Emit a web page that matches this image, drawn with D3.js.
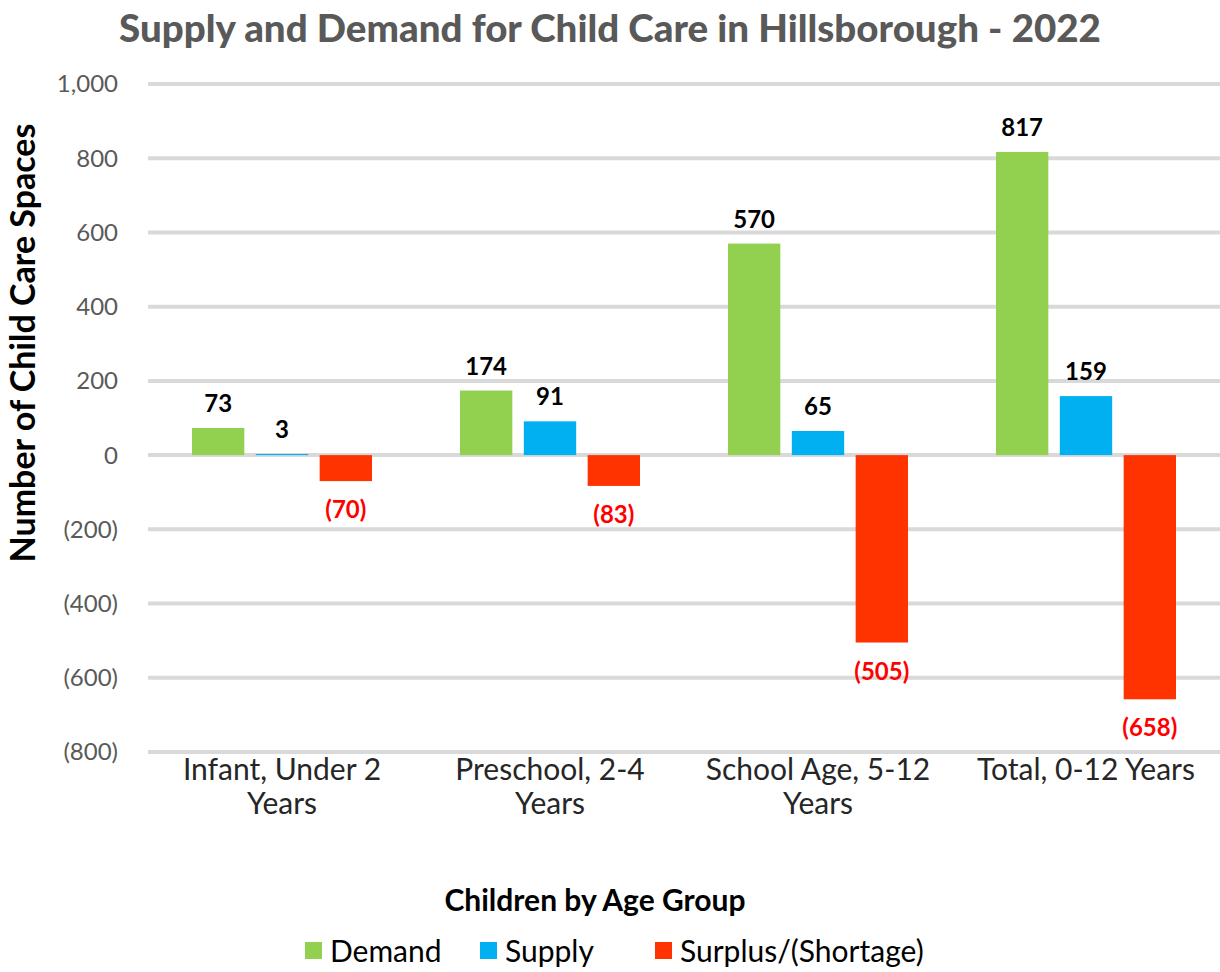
<!DOCTYPE html>
<html>
<head>
<meta charset="utf-8">
<script src="https://cdn.jsdelivr.net/npm/d3@7"></script>
<style>
  html, body { margin: 0; padding: 0; background: #fff; }
  svg { display: block; }
  text { font-family: Lato, "Open Sans", sans-serif; }
</style>
</head>
<body>
<svg id="chart" width="1220" height="972"></svg>
<script>
const categories = [["Infant, Under 2", "Years"], ["Preschool, 2-4", "Years"], ["School Age, 5-12", "Years"], ["Total, 0-12 Years"]];
const seriesNames = ["Demand", "Supply", "Surplus/(Shortage)"];
const demand = [73, 174, 570, 817];
const supply = [3, 91, 65, 159];
const surplus = [-70, -83, -505, -658];
const yTicks = [1000, 800, 600, 400, 200, 0, -200, -400, -600, -800];
const colors = ["#92d050", "#00b0f0", "#ff3300"];
const labelColors = ["#000000", "#000000", "#ff0000"];

const svg = d3.select("#chart");
const x0 = d3.scaleBand().domain(d3.range(categories.length)).range([148, 1220]).paddingInner(0).paddingOuter(0);
const y = d3.scaleLinear().domain([-800, 1000]).range([752, 84]);
const xSeries = d3.scaleBand().domain(d3.range(3)).range([-90, 90]).paddingInner(0.18);

// gridlines
svg.append("g").selectAll("line").data(yTicks).join("line")
  .attr("x1", 148).attr("x2", 1220)
  .attr("y1", d => y(d)).attr("y2", d => y(d))
  .attr("stroke", "#d9d9d9").attr("stroke-width", 4);

// y axis labels
const fmt = d => d < 0 ? "(" + d3.format(",")(-d) + ")" : d3.format(",")(d);
svg.append("g").selectAll("text").data(yTicks).join("text")
  .attr("x", 118).attr("y", d => y(d)).attr("dy", "0.35em")
  .attr("text-anchor", "end").attr("font-size", 24).attr("fill", "#595959")
  .text(fmt);

// bars
const all = [demand, supply, surplus];
const barData = [];
all.forEach((vals, s) => vals.forEach((v, i) => barData.push({ s, i, v })));
svg.append("g").selectAll("rect").data(barData).join("rect")
  .attr("x", d => x0(d.i) + x0.bandwidth() / 2 + xSeries(d.s))
  .attr("width", xSeries.bandwidth())
  .attr("y", d => y(Math.max(0, d.v)))
  .attr("height", d => Math.abs(y(d.v) - y(0)))
  .attr("fill", d => colors[d.s]);

// value labels
svg.append("g").selectAll("text").data(barData).join("text")
  .attr("x", d => x0(d.i) + x0.bandwidth() / 2 + xSeries(d.s) + xSeries.bandwidth() / 2)
  .attr("y", d => d.v >= 0 ? y(d.v) - 16 : y(d.v) + 37)
  .attr("text-anchor", "middle").attr("font-size", 24).attr("font-weight", "bold")
  .attr("fill", d => labelColors[d.s])
  .text(d => fmt(d.v));

// category labels
const cat = svg.append("g").selectAll("text").data(categories).join("text")
  .attr("x", (d, i) => x0(i) + x0.bandwidth() / 2)
  .attr("y", 780)
  .attr("text-anchor", "middle").attr("font-size", 30).attr("fill", "#262626");
cat.selectAll("tspan").data(d => d).join("tspan")
  .attr("x", function() { return d3.select(this.parentNode).attr("x"); })
  .attr("dy", (d, j) => j === 0 ? 0 : 34)
  .text(d => d);

// title
svg.append("text").attr("x", 610).attr("y", 42).attr("text-anchor", "middle")
  .attr("font-size", 38.5).attr("font-weight", "900").attr("fill", "#595959")
  .text("Supply and Demand for Child Care in Hillsborough - 2022");

// y axis title
svg.append("text").attr("transform", "translate(35,343) rotate(-90)")
  .attr("text-anchor", "middle").attr("font-size", 34).attr("font-weight", "bold").attr("fill", "#000")
  .text("Number of Child Care Spaces");

// x axis title
svg.append("text").attr("x", 595).attr("y", 911).attr("text-anchor", "middle")
  .attr("font-size", 30).attr("font-weight", "bold").attr("fill", "#000")
  .text("Children by Age Group");

// legend
const legendX = [305, 480, 655];
const lg = svg.append("g").selectAll("g").data(seriesNames).join("g")
  .attr("transform", (d, i) => `translate(${legendX[i]},951)`);
lg.append("rect").attr("x", 0).attr("y", -9).attr("width", 17).attr("height", 17).attr("fill", (d, i) => colors[i]);
lg.append("text").attr("x", 25).attr("y", 0).attr("dy", "0.35em")
  .attr("font-size", 30).attr("fill", "#000").text(d => d);
</script>
</body>
</html>
